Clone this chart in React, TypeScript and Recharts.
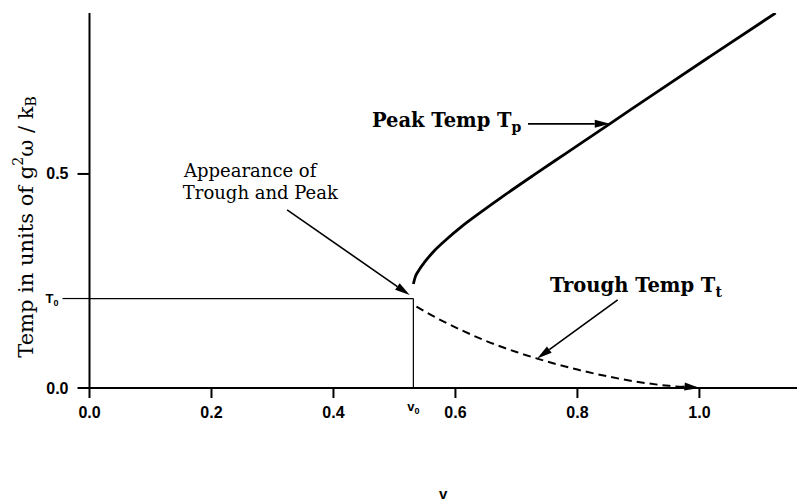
import React from "react";
import {
  ComposedChart,
  Line,
  XAxis,
  YAxis,
  ReferenceLine,
  ReferenceDot,
} from "recharts";

// Characteristic values
const V0 = 0.531;
const T0 = 0.209;

// Peak temperature curve T_p(v)
const peakV = [0.531, 0.534, 0.54, 0.55, 0.565, 0.585, 0.61, 0.64, 0.68, 0.73, 0.78, 0.853, 0.935, 1.017, 1.125];
const peakT = [0.243, 0.259, 0.275, 0.295, 0.32, 0.347, 0.377, 0.409, 0.45, 0.499, 0.547, 0.617, 0.696, 0.774, 0.876];

// Trough temperature curve T_t(v)
const troughV = [0.536, 0.57, 0.61, 0.65, 0.7, 0.75, 0.8, 0.85, 0.9, 0.95, 1.0];
const troughT = [0.19, 0.163, 0.135, 0.11, 0.084, 0.062, 0.043, 0.027, 0.014, 0.005, 0.0];

// Axis ticks
const xTicks = [0, 0.2, 0.4, V0, 0.6, 0.8, 1.0];
const yTicks = [0, T0, 0.5];

// Annotation arrows [fromV, fromT, toV, toT]
const arrows: number[][] = [
  [0.324, 0.416, 0.525, 0.217],
  [0.719, 0.617, 0.853, 0.617],
  [0.866, 0.206, 0.734, 0.069],
  [0.972, 0.004, 1.0, 0.0],
];

// Annotation texts
const labelsMain = ["Peak Temp T", "Trough Temp T", "Appearance of", "Trough and Peak"];
const labelsSub = ["p", "t", "", ""];
const labelsBold = [true, true, false, false];
const labelsV = [0.463, 0.755, 0.155, 0.153];
const labelsT = [0.61, 0.224, 0.493, 0.442];

const peakData = peakV.map((v, i) => ({ v, T: peakT[i] }));
const troughData = troughV.map((v, i) => ({ v, T: troughT[i] }));

const SERIF = "'DejaVu Serif', serif";
const SANS = "'Liberation Sans', Arial, sans-serif";

const XTick = (props: any) => {
  const { x, y, payload } = props;
  if (payload.value === V0) {
    return (
      <g>
        <text x={x - 6} y={y + 23} fontFamily={SANS} fontSize={13} fontWeight={600} fill="#000">
          v<tspan fontSize={9} dy={3}>0</tspan>
        </text>
      </g>
    );
  }
  return (
    <g>
      <line x1={x} x2={x} y1={y} y2={y + 10} stroke="#000" strokeWidth={2} />
      <text x={x} y={y + 30} textAnchor="middle" fontFamily={SANS} fontSize={16} fontWeight={700} fill="#000">
        {payload.value.toFixed(1)}
      </text>
    </g>
  );
};

const YTick = (props: any) => {
  const { x, y, payload } = props;
  if (payload.value === T0) {
    return (
      <g>
        <line x1={x - 27} x2={x} y1={y} y2={y} stroke="#000" strokeWidth={1.2} />
        <text x={x - 44} y={y + 4} fontFamily={SANS} fontSize={13} fontWeight={600} fill="#000">
          T<tspan fontSize={9} dy={3}>0</tspan>
        </text>
      </g>
    );
  }
  return (
    <g>
      <line x1={x - 12} x2={x} y1={y} y2={y} stroke="#000" strokeWidth={2} />
      <text x={x - 21} y={y + 5.5} textAnchor="end" fontFamily={SANS} fontSize={16} fontWeight={700} fill="#000">
        {payload.value.toFixed(1)}
      </text>
    </g>
  );
};

const ArrowShape = (props: any) => {
  const { x1, y1, x2, y2 } = props;
  if ([x1, y1, x2, y2].some((n) => typeof n !== "number" || isNaN(n))) return null;
  const dx = x2 - x1;
  const dy = y2 - y1;
  const len = Math.sqrt(dx * dx + dy * dy) || 1;
  const ux = dx / len;
  const uy = dy / len;
  const hl = 15;
  const hw = 4;
  const bx = x2 - ux * hl;
  const by = y2 - uy * hl;
  const px = -uy * hw;
  const py = ux * hw;
  return (
    <g>
      <line x1={x1} y1={y1} x2={bx} y2={by} stroke="#000" strokeWidth={1.6} />
      <polygon points={`${x2},${y2} ${bx + px},${by + py} ${bx - px},${by - py}`} fill="#000" />
    </g>
  );
};

const makeTextShape = (i: number) => (props: any) => {
  const { cx, cy } = props;
  return (
    <text
      x={cx}
      y={cy}
      fontFamily={SERIF}
      fontSize={labelsBold[i] ? 19.5 : 18}
      fontWeight={labelsBold[i] ? 700 : 400}
      fill="#000"
    >
      {labelsMain[i]}
      {labelsSub[i] ? (
        <tspan fontSize={14} dy={5}>
          {labelsSub[i]}
        </tspan>
      ) : null}
    </text>
  );
};

const YLabel = (props: any) => {
  const vb = props.viewBox || {};
  const cx = (vb.x ?? 9.5) + 16;
  const cy = 227;
  return (
    <text
      x={cx}
      y={cy}
      transform={`rotate(-90, ${cx}, ${cy})`}
      textAnchor="middle"
      dominantBaseline="central"
      fontFamily={SERIF}
      fontSize={21}
      fill="#000"
    >
      Temp in units of g<tspan fontSize={14} dy={-8}>2</tspan>
      <tspan dy={8}>ω / k</tspan>
      <tspan fontSize={14} dy={5}>B</tspan>
    </text>
  );
};

const XLabel = (props: any) => {
  const vb = props.viewBox || {};
  const cx = (vb.x ?? 89.5) + (vb.width ?? 707) / 2;
  return (
    <text x={cx} y={499} textAnchor="middle" fontFamily={SANS} fontSize={15} fontWeight={700} fill="#000">
      v
    </text>
  );
};

export default function App() {
  return (
    <div style={{ position: "absolute", left: 0, top: 0, background: "#fff" }}>
      <ComposedChart
        width={797}
        height={503}
        margin={{ top: 13, right: 0, left: 9.5, bottom: 85 }}
      >
        <XAxis
          type="number"
          dataKey="v"
          domain={[0, 1.16]}
          ticks={xTicks}
          allowDataOverflow
          height={30}
          tickSize={0}
          tickMargin={0}
          tickLine={false}
          axisLine={{ stroke: "#000", strokeWidth: 2 }}
          tick={<XTick />}
          interval={0}
          label={<XLabel />}
        />
        <YAxis
          type="number"
          dataKey="T"
          domain={[0, 0.876]}
          ticks={yTicks}
          allowDataOverflow
          width={80}
          tickSize={0}
          tickMargin={0}
          tickLine={false}
          axisLine={{ stroke: "#000", strokeWidth: 2 }}
          tick={<YTick />}
          interval={0}
          label={<YLabel />}
        />
        <ReferenceLine
          segment={[{ x: 0, y: T0 }, { x: V0, y: T0 }]}
          stroke="#000"
          strokeWidth={1.2}
          ifOverflow="visible"
        />
        <ReferenceLine
          segment={[{ x: V0, y: T0 }, { x: V0, y: 0 }]}
          stroke="#000"
          strokeWidth={1.2}
          ifOverflow="visible"
        />
        <Line
          data={peakData}
          dataKey="T"
          type="monotone"
          stroke="#000"
          strokeWidth={2.8}
          dot={false}
          activeDot={false}
          isAnimationActive={false}
        />
        <Line
          data={troughData}
          dataKey="T"
          type="monotone"
          stroke="#000"
          strokeWidth={2}
          strokeDasharray="8 5"
          dot={false}
          activeDot={false}
          isAnimationActive={false}
        />
        {arrows.map((a, i) => (
          <ReferenceLine
            key={`arrow-${i}`}
            segment={[{ x: a[0], y: a[1] }, { x: a[2], y: a[3] }]}
            ifOverflow="visible"
            shape={<ArrowShape />}
          />
        ))}
        {labelsMain.map((_, i) => (
          <ReferenceDot
            key={`label-${i}`}
            x={labelsV[i]}
            y={labelsT[i]}
            r={0}
            ifOverflow="visible"
            shape={makeTextShape(i)}
          />
        ))}
      </ComposedChart>
    </div>
  );
}
